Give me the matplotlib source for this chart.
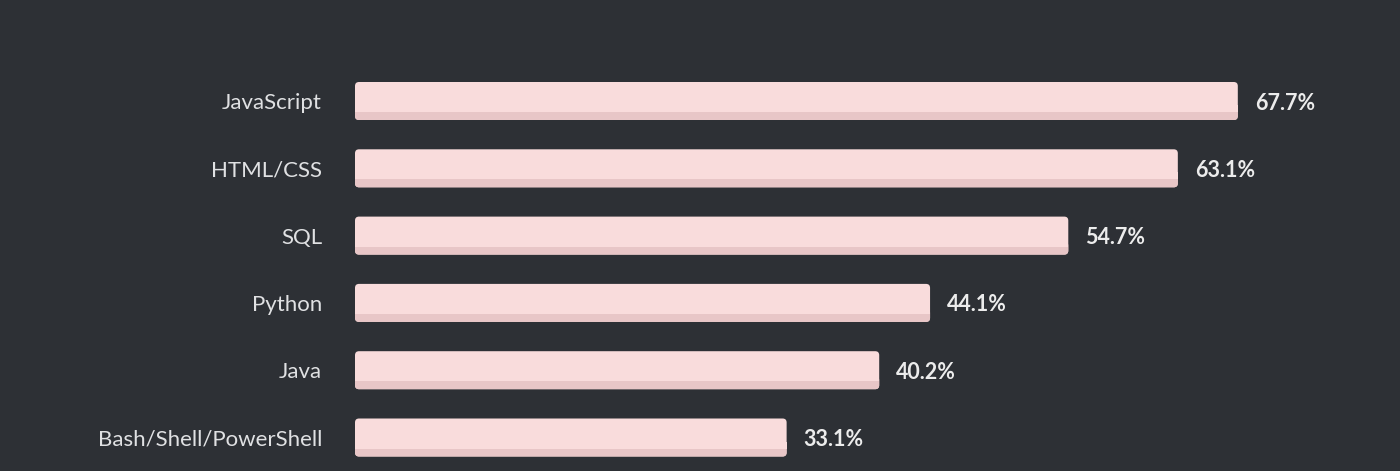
import matplotlib
matplotlib.use("Agg")
import matplotlib.pyplot as plt
from matplotlib.patches import FancyBboxPatch, Rectangle

# data
languages = ["JavaScript", "HTML/CSS", "SQL", "Python", "Java", "Bash/Shell/PowerShell"]
shares = [67.7, 63.1, 54.7, 44.1, 40.2, 33.1]

bg = "#2d3035"
bar_light = "#f9dcdc"
bar_dark = "#e8c6c7"

W, H, dpi = 1400, 471, 100
fig = plt.figure(figsize=(W / dpi, H / dpi), dpi=dpi, facecolor=bg)

# axes starts at the bars' left edge; 1 unit = ~13.04 px
px_per_unit = 13.04
x_max = (W - 355) / px_per_unit
ax = fig.add_axes([355 / W, 0, 1 - 355 / W, 1])
ax.set_facecolor(bg)
ax.set_xlim(0, x_max)
row_px = 67.3
top = -101 / row_px
ax.set_ylim(top + H / row_px, top)
ax.axis("off")

py = 1 / row_px  # one pixel in y units
bar_h = 38 * py
aspect = px_per_unit / row_px
r = 4 / px_per_unit
strip = 8 * py

for i, (lang, v) in enumerate(zip(languages, shares)):
    y0 = i + bar_h / 2  # bottom (y axis inverted)
    # full bar
    ax.add_patch(FancyBboxPatch((0, i - bar_h / 2), v, bar_h,
                                boxstyle=f"round,pad=0,rounding_size={r}",
                                mutation_aspect=aspect, fc=bar_light, ec="none"))
    # darker bottom strip
    ax.add_patch(FancyBboxPatch((0, y0 - strip - 5 * py), v, strip + 5 * py,
                                boxstyle=f"round,pad=0,rounding_size={r}",
                                mutation_aspect=aspect, fc=bar_dark, ec="none"))
    ax.add_patch(Rectangle((0, y0 - strip - 7 * py), v, 7 * py, fc=bar_light, ec="none"))

    ax.annotate(lang, xy=(0, i), xytext=(-33 * 0.72, -2 * 0.72), textcoords="offset points",
                ha="right", va="center", fontsize=16, color="#e0e1e3",
                family="Lato")
    ax.annotate(f"{v}%", xy=(v, i), xytext=(17 * 0.72, -2 * 0.72), textcoords="offset points",
                ha="left", va="center", fontsize=15.5, color="#ececec",
                fontweight="bold", family="Lato")

fig.savefig("out.png", dpi=dpi, facecolor=bg)
